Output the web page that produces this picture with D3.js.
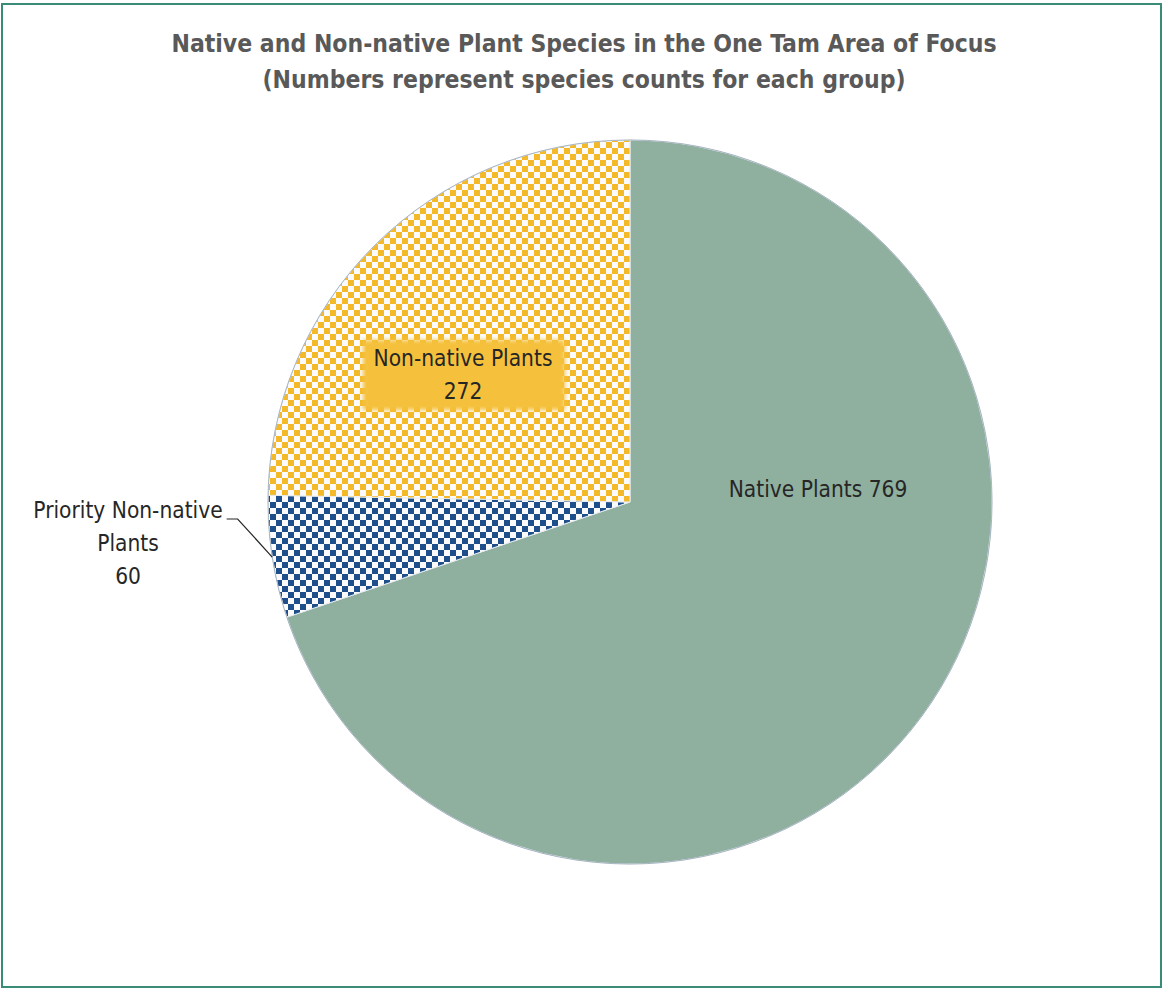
<!DOCTYPE html>
<html>
<head>
<meta charset="utf-8">
<script src="https://cdn.jsdelivr.net/npm/d3@7"></script>
<style>
  html, body { margin: 0; padding: 0; background: #fff; }
  svg { display: block; }
  .title { font-family: "Liberation Sans Narrow", "DejaVu Sans Condensed", sans-serif; font-weight: bold; fill: #595959; }
  .lbl { font-family: "Liberation Sans Narrow", "DejaVu Sans Condensed", sans-serif; fill: #262626; }
</style>
</head>
<body>
<svg id="chart" width="1164" height="990"></svg>
<script>
// Species counts per plant group (clockwise from 12 o'clock)
const categories = ["Native Plants", "Priority Non-native Plants", "Non-native Plants"];
const values = [769, 60, 272];
const titleLines = [
  "Native and Non-native Plant Species in  the One Tam Area of Focus",
  "(Numbers represent species counts for each group)"
];

const W = 1164, H = 990;
const cx = 630, cy = 502, R = 362;

const svg = d3.select("#chart");
const defs = svg.append("defs");

// Small checkerboard fills
function checker(id, color, size) {
  const p = defs.append("pattern")
    .attr("id", id).attr("patternUnits", "userSpaceOnUse")
    .attr("width", size * 2).attr("height", size * 2);
  p.append("rect").attr("width", size * 2).attr("height", size * 2).attr("fill", "#fbfbfd");
  p.append("rect").attr("width", size).attr("height", size).attr("fill", color);
  p.append("rect").attr("x", size).attr("y", size).attr("width", size).attr("height", size).attr("fill", color);
}
checker("chkYellow", "#f4b928", 6);
checker("chkBlue", "#1f4f8a", 6);

defs.append("filter").attr("id", "soft")
  .attr("x", "-10%").attr("y", "-20%").attr("width", "120%").attr("height", "140%")
  .append("feGaussianBlur").attr("stdDeviation", 2);

const fills = d3.scaleOrdinal()
  .domain(categories)
  .range(["#8fb09f", "url(#chkBlue)", "url(#chkYellow)"]);

// Frame
svg.append("rect")
  .attr("x", 2).attr("y", 4).attr("width", W - 5).attr("height", H - 7)
  .attr("fill", "#fff").attr("stroke", "#3a8c78").attr("stroke-width", 2);

// Title
svg.append("g").selectAll("text").data(titleLines).join("text")
  .attr("class", "title")
  .attr("x", 584).attr("y", (d, i) => 52 + i * 36)
  .attr("text-anchor", "middle")
  .attr("font-size", 24.5)
  .text(d => d);

const pie = d3.pie().sort(null).value(d => d.value);
const arcs = pie(categories.map((c, i) => ({ name: c, value: values[i] })));
const arc = d3.arc().innerRadius(0).outerRadius(R);

const g = svg.append("g").attr("transform", `translate(${cx},${cy})`);

g.selectAll("path.slice").data(arcs).join("path")
  .attr("class", "slice")
  .attr("d", arc)
  .attr("fill", d => fills(d.data.name))
  .attr("stroke", "#e6ecef")
  .attr("stroke-width", 1);

// Outer rim
g.append("circle").attr("r", R).attr("fill", "none")
  .attr("stroke", "#a7b4c2").attr("stroke-width", 1);

// Labels
const lineH = 33;
const labelSpec = {
  "Native Plants": { dx: 188, dy: -5, lines: d => ["Native Plants " + d.value] },
  "Non-native Plants": { dx: -167, dy: -136, lines: d => ["Non-native Plants", String(d.value)], box: true },
  "Priority Non-native Plants": { dx: -502, dy: 16, lines: d => ["Priority Non-native", "Plants", String(d.value)], leader: true }
};

arcs.forEach(a => {
  const s = labelSpec[a.data.name];
  const lines = s.lines(a.data);
  if (s.box) {
    g.append("rect")
      .attr("x", s.dx - 100).attr("y", s.dy - 26)
      .attr("width", 202).attr("height", 70)
      .attr("fill", "#f5c13d")
      .attr("filter", "url(#soft)");
  }
  const t = g.append("text").attr("class", "lbl")
    .attr("text-anchor", "middle").attr("font-size", 22.5);
  t.selectAll("tspan").data(lines).join("tspan")
    .attr("x", s.dx).attr("y", (d, i) => s.dy + i * lineH)
    .text(d => d);
  if (s.leader) {
    const mid = (a.startAngle + a.endAngle) / 2;
    const ex = R * Math.sin(mid), ey = -R * Math.cos(mid);
    const firstW = t.select("tspan").node().getComputedTextLength();
    const x0 = s.dx + firstW / 2 + 4;
    g.append("path")
      .attr("d", `M${x0},${s.dy + 1}H${x0 + 11}L${ex},${ey}`)
      .attr("fill", "none").attr("stroke", "#262626").attr("stroke-width", 1.2);
  }
});
</script>
</body>
</html>
